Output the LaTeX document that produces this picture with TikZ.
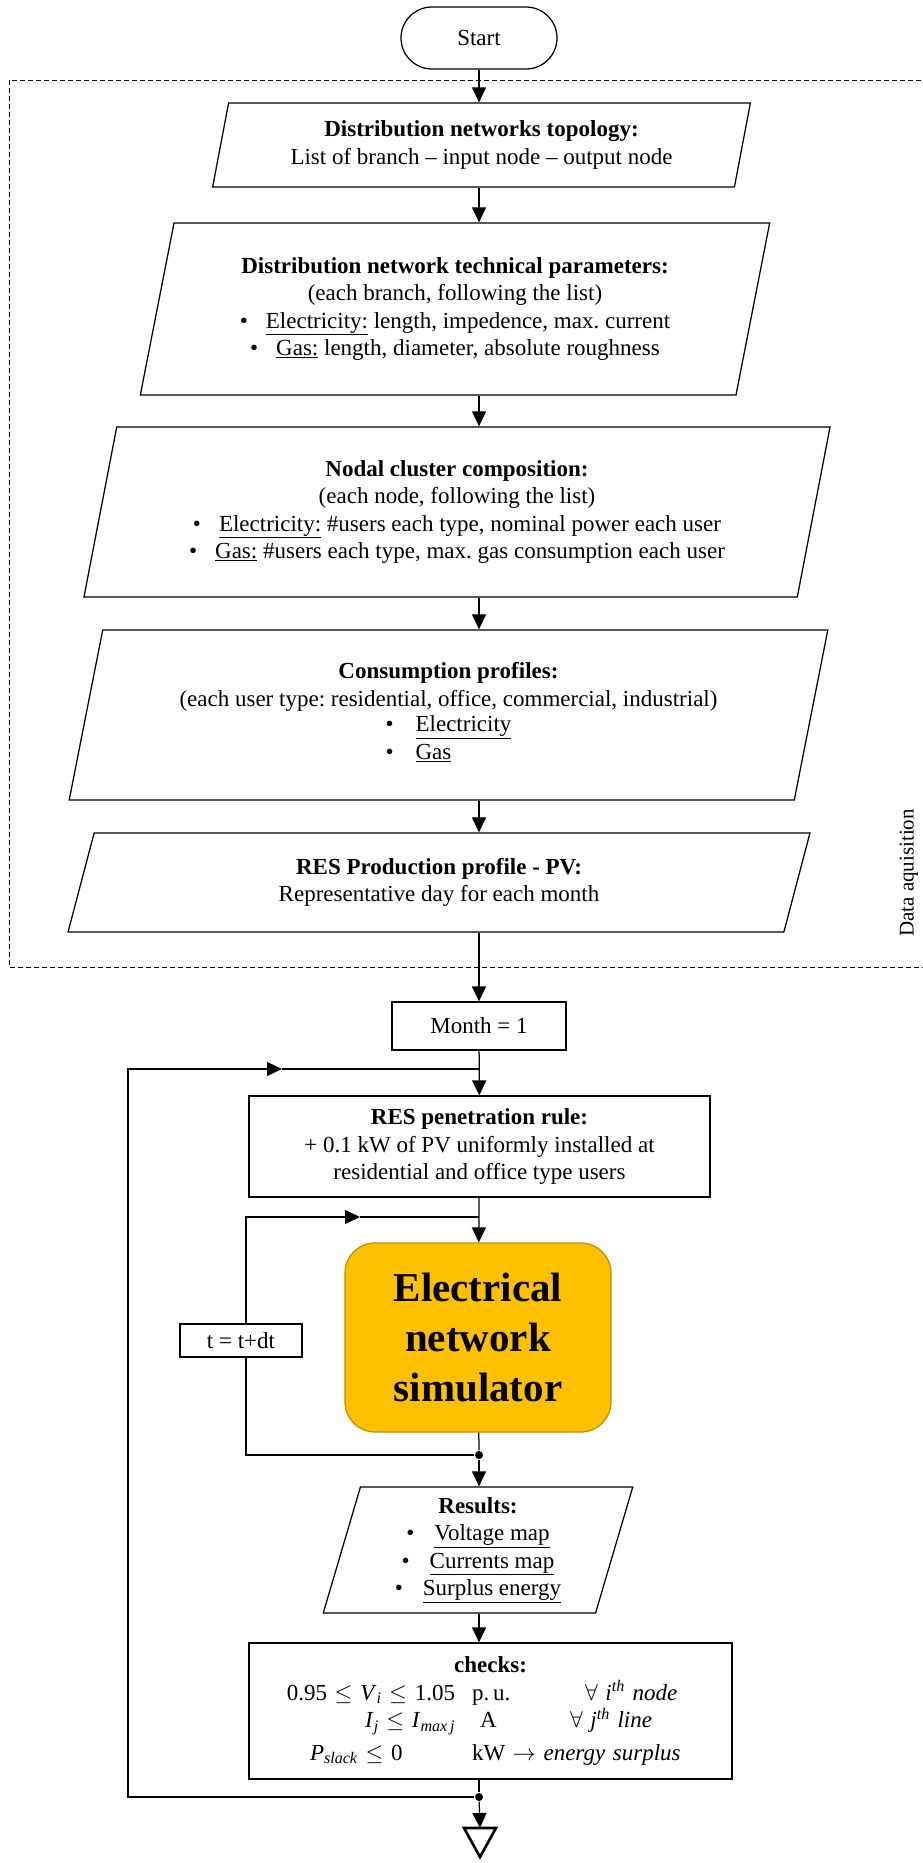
\documentclass[tikz,border=0pt]{standalone}
\usepackage{fix-cm}
\usepackage{fontspec}
\setmainfont{Liberation Serif}
\usetikzlibrary{shapes.geometric,arrows.meta}
\definecolor{simfill}{HTML}{FFC000}
\definecolor{simline}{HTML}{BF9000}
\begin{document}
\begin{tikzpicture}[x=1pt,y=-1pt,line width=1.25pt,
	txt/.style={font=\fontsize{23}{27.5}\selectfont\frenchspacing,align=center},
	inbox/.style={txt,draw,trapezium,trapezium left angle=76,trapezium right angle=104,trapezium stretches=true,inner sep=0pt},
	box/.style={txt,draw,rectangle,inner sep=0pt},
	arr/.style={-{Triangle[length=15pt,width=14pt]}},
	jdot/.style={circle,fill,inner sep=0pt,minimum size=8pt}]
	\useasboundingbox (0,0) rectangle (922,1863);
	\draw[line width=1pt,dash pattern=on 5pt off 3pt] (9,80) rectangle (926,967);
	\node[box,rounded corners=31pt,minimum width=156pt,minimum height=62pt] (start) at (479,38) {Start};
	\node[inbox,minimum width=539pt,minimum height=84pt] (1) at (481.5,145) {\textbf{Distribution networks topology:}\\List of branch -- input node -- output node};
	\node[inbox,minimum width=634pt,minimum height=172pt] (2) at (455,309) {\textbf{Distribution network technical parameters:}\\(each branch, following the list)\\\textbullet\hspace{18pt}\underline{Electricity:} length, impedence, max. current\\\textbullet\hspace{18pt}\underline{Gas:} length, diameter, absolute roughness};
	\node[inbox,minimum width=750pt,minimum height=170pt] (3) at (457,512) {\textbf{Nodal cluster composition:}\\(each node, following the list)\\\textbullet\hspace{18pt}\underline{Electricity:} \#users each type, nominal power each user\\\textbullet\hspace{18pt}\underline{Gas:} \#users each type, max. gas consumption each user};
	\node[inbox,minimum width=759pt,minimum height=170pt] (4) at (448.5,715) {\textbf{Consumption profiles:}\\(each user type: residential, office, commercial, industrial)\\\begin{tabular}{@{}l@{}}\textbullet\hspace{22pt}\underline{Electricity}\\\textbullet\hspace{22pt}\underline{Gas}\end{tabular}};
	\node[inbox,minimum width=746pt,minimum height=99pt] (5) at (439,882.5) {\textbf{RES Production profile - PV:}\\Representative day for each month};
	\node[txt,rotate=90,font=\fontsize{21}{24}\selectfont] (lbl) at (909,873) {Data aquisition};
	\node[box,minimum width=174pt,minimum height=48pt] (month) at (479,1026) {Month = 1};
	\node[box,minimum width=461pt,minimum height=101pt] (res) at (479.5,1146.5) {\textbf{RES penetration rule:}\\+ 0.1 kW of PV uniformly installed at\\residential and office type users};
	\node[box,rounded corners=30pt,fill=simfill,draw=simline,minimum width=266pt,minimum height=189pt,font=\bfseries\fontsize{41}{50}\selectfont] (sim) at (478,1337.5) {Electrical\\network\\simulator};
	\node[inbox,minimum width=310pt,minimum height=126pt] (out) at (478,1550) {\textbf{Results:}\\\textbullet\hspace{20pt}\underline{Voltage map}\\\textbullet\hspace{20pt}\underline{Currents map}\\\textbullet\hspace{20pt}\underline{Surplus energy}};
	\node[box,minimum width=483pt,minimum height=136pt,text width=483pt] (chk) at (490.5,1711) {\textbf{checks:}\\
		\makebox[483pt][l]{\makebox[206pt][r]{0.95 $\le$ \textit{V}\textsubscript{\textit{i}} $\le$ 1.05}\hspace{17pt}\makebox[113pt][l]{p.\,u.}$\forall$ \textit{i}\textsuperscript{\textit{th}} \textit{node}}\\
		\makebox[483pt][l]{\makebox[206pt][r]{\textit{I}\textsubscript{\textit{j}} $\le$ \textit{I}\textsubscript{\textit{max}\,\textit{j}}}\hspace{25pt}\makebox[90pt][l]{A}$\forall$ \textit{j}\textsuperscript{\textit{th}} \textit{line}}\\[5pt]
		\makebox[483pt][l]{\hspace{61pt}\makebox[162pt][l]{\textit{P}\textsubscript{\textit{slack}} $\le$ 0}kW $\rightarrow$ \textit{energy surplus}}};
	\coordinate (jA) at (479,1069);
	\coordinate (jB) at (479,1217);
	\coordinate (oL) at (128,1069);
	\coordinate (oM) at (282,1069);
	\coordinate (iL) at (246,1217);
	\coordinate (iM) at (360,1217);
	\coordinate (endtop) at (480,1828);
	\node[jdot] (dA) at (479,1455) {};
	\node[jdot] (dB) at (479,1797) {};
	% main chain
	\draw[arr] (start) -- (start |- 1.north);
	\draw[arr] (1.south -| start) -- (2.north -| start);
	\draw[arr] (2.south -| start) -- (3.north -| start);
	\draw[arr] (3.south -| start) -- (4.north -| start);
	\draw[arr] (4.south -| start) -- (5.north -| start);
	\draw[arr] (5.south -| start) -- (month);
	\draw[arr] (month) -- (res);
	\draw[arr] (res) -- (sim);
	\draw (sim) -- (dA);
	\draw[arr] (dA) -- (out.north -| dA);
	\draw[arr] (out.south -| dA) -- (chk.north -| dA);
	\draw (chk.south -| dB) -- (dB);
	\draw[arr] (dB) -- (endtop);
	% loops
	\draw[arr] (dB) -| (oL) -- (oM);
	\draw (oM) -- (jA);
	\draw[arr] (dA) -| (iL) -- (iM);
	\draw (iM) -- (jB);
	\node[box,fill=white,minimum width=122pt,minimum height=33pt] (dt) at (241,1340.5) {t = t+dt};
	% end
	\draw[line width=2.6pt,line join=miter] (464,1828) -- (496,1828) -- (480,1857) -- cycle;
\end{tikzpicture}
\end{document}
